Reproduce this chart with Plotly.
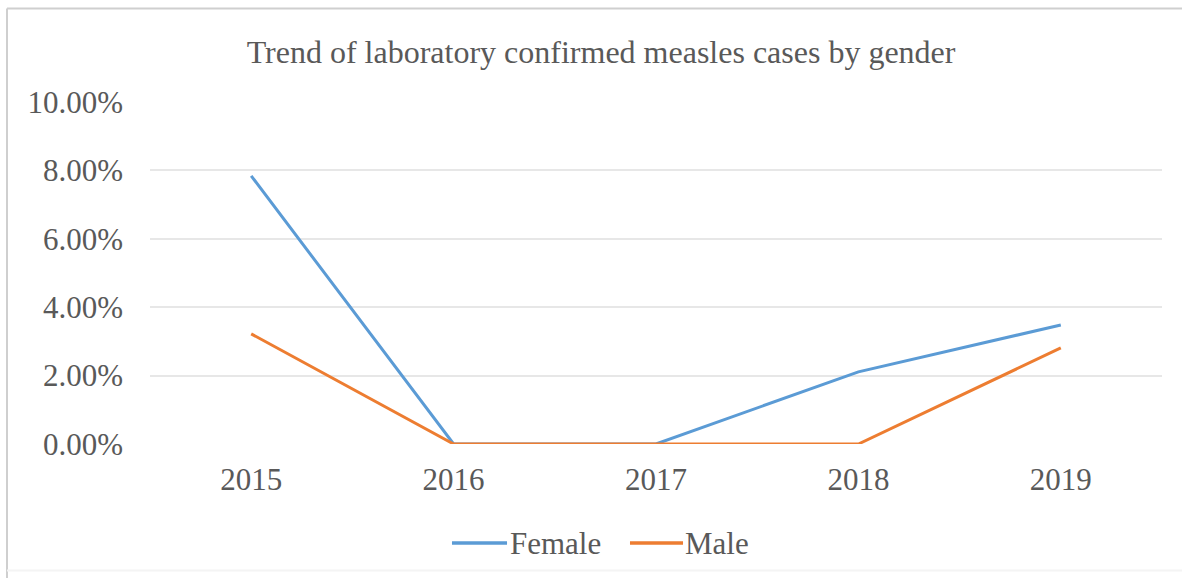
import plotly.graph_objects as go

years = ["2015", "2016", "2017", "2018", "2019"]
female = [0.0784, 0.0, 0.0, 0.0211, 0.0348]
male = [0.0322, 0.0, 0.0, 0.0, 0.0281]
y_ticks = [0.0, 0.02, 0.04, 0.06, 0.08, 0.10]
series_names = ["Female", "Male"]
series_colors = ["#5B9BD5", "#ED7D31"]

FONT = "Liberation Serif"
TEXT = "#595959"

fig = go.Figure()
for name, vals, col in zip(series_names, [female, male], series_colors):
    fig.add_trace(go.Scatter(x=years, y=vals, name=name, mode="lines",
                             line=dict(color=col, width=3), showlegend=False))

# chart frame edges (top and left strong, bottom faint)
frame = dict(xref="paper", yref="paper", type="line", layer="below")
fig.add_shape(x0=-0.1413, x1=1.02, y0=1.2734, y1=1.2734,
              line=dict(color="#CFCFCF", width=2), **frame)
fig.add_shape(x0=-0.1413, x1=-0.1413, y0=-0.40, y1=1.2734,
              line=dict(color="#CFCFCF", width=2), **frame)
fig.add_shape(x0=-0.1413, x1=1.02, y0=-0.37, y1=-0.37,
              line=dict(color="#F4F4F4", width=2), **frame)

# legend below the plot: a short line swatch followed by the series name
legend_y = -0.2895
swatches = [(0.2984, 0.3528, 0.3557), (0.4743, 0.5267, 0.5287)]
for (x0, x1, xt), name, col in zip(swatches, series_names, series_colors):
    fig.add_shape(type="line", xref="paper", yref="paper",
                  x0=x0, x1=x1, y0=legend_y, y1=legend_y,
                  line=dict(color=col, width=3.5))
    fig.add_annotation(xref="paper", yref="paper", x=xt, y=legend_y,
                       text=name, showarrow=False, xanchor="left",
                       yanchor="middle", xshift=-2,
                       font=dict(family=FONT, size=31, color=TEXT))

fig.update_layout(
    width=1182, height=578,
    margin=dict(l=150, r=20, t=102, b=134),
    paper_bgcolor="white", plot_bgcolor="white",
    font=dict(family=FONT, color=TEXT),
    title=dict(text="Trend of laboratory confirmed measles cases by gender",
               x=0.5085, xanchor="center", y=0.911, yanchor="middle",
               font=dict(family=FONT, size=32, color=TEXT)),
    xaxis=dict(type="category", range=[-0.5, 4.5], showgrid=False,
               showline=False, ticks="", zeroline=False,
               ticklabelstandoff=14,
               tickfont=dict(family=FONT, size=31, color=TEXT)),
    yaxis=dict(range=[0, 0.10], tickvals=y_ticks, tickformat=".2%",
               showgrid=True, gridcolor="#E7E7E7", gridwidth=1.5,
               zeroline=False, showline=False, ticks="",
               ticklabelstandoff=26,
               tickfont=dict(family=FONT, size=31, color=TEXT)),
    showlegend=False,
)

fig.write_html("out.html")
